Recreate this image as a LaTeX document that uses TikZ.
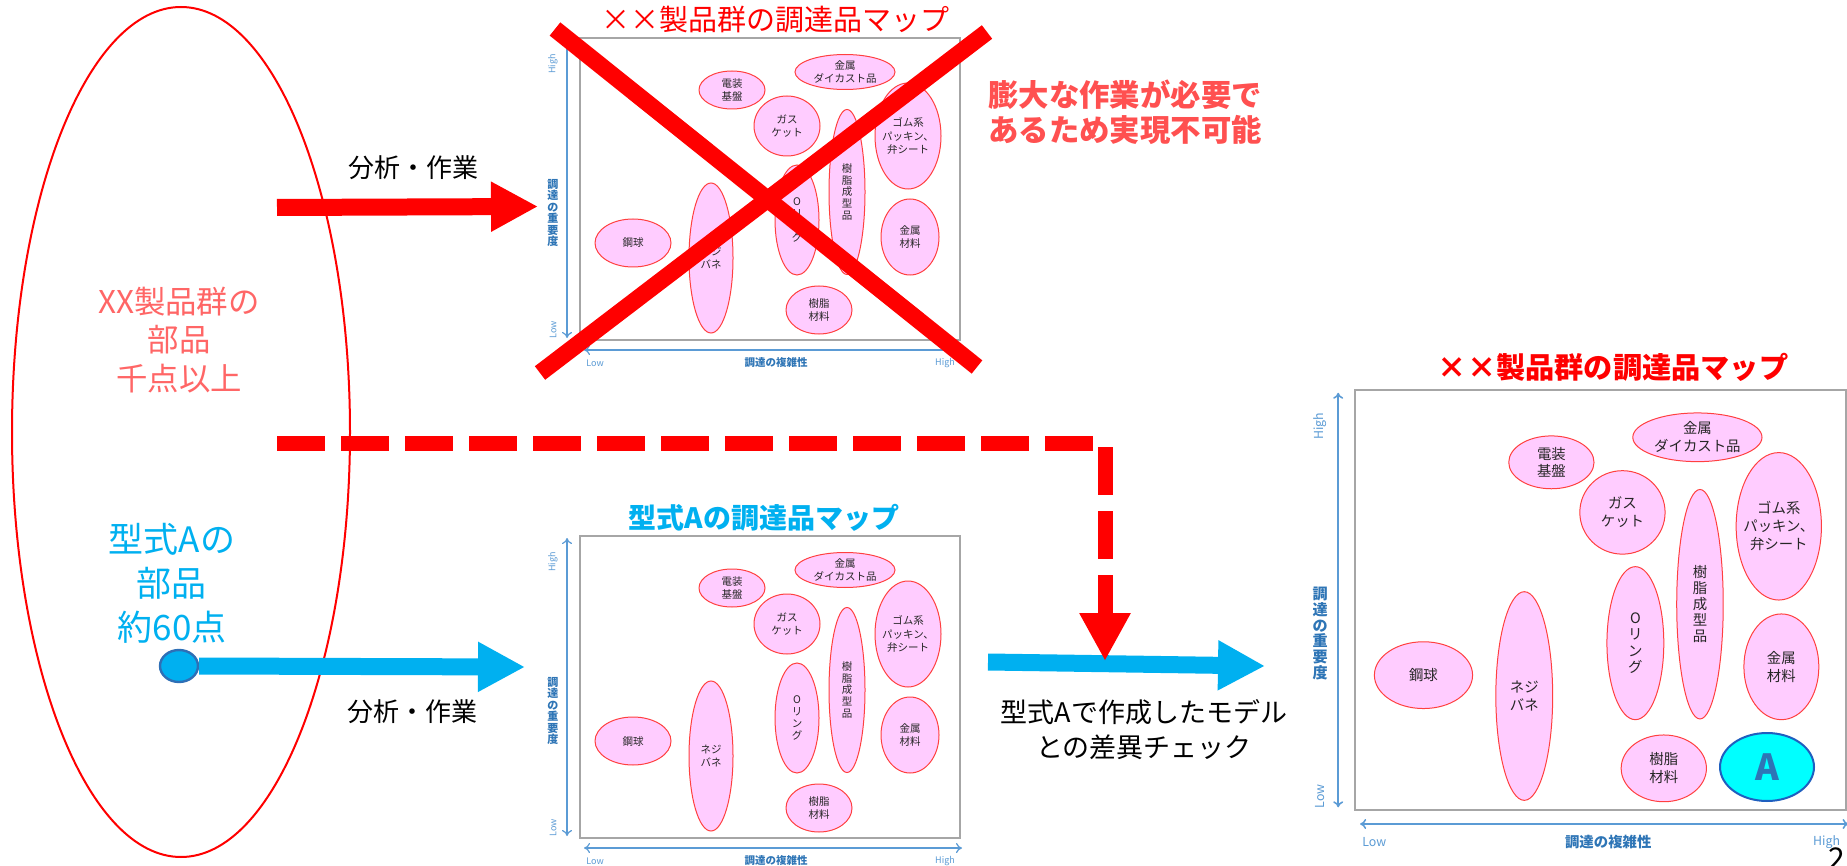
\documentclass[tikz,border=0pt]{standalone}
\usepackage{fontspec}
\setmainfont{Noto Sans CJK JP}
\usetikzlibrary{arrows.meta,shapes.geometric}
\definecolor{partpink}{HTML}{FFCCFF}
\definecolor{partred}{HTML}{FF4040}
\definecolor{axisblue}{HTML}{5B9BD5}
\definecolor{labelblue}{HTML}{2E75B6}
\definecolor{framegray}{HTML}{A6A6A6}
\definecolor{skyblue}{HTML}{00B0F0}
\definecolor{dotblue}{HTML}{2E6FB6}
\definecolor{lightred}{HTML}{FF5050}
\definecolor{softred}{HTML}{FF6666}
\definecolor{acyan}{HTML}{00FFFF}
\definecolor{adark}{HTML}{1F5FBF}
\tikzset{
  part/.style n args={2}{ellipse, draw=partred, fill=partpink, line width=0.5pt, inner sep=0pt,
    minimum width={#1*\msx*1pt}, minimum height={#2*\msy*1pt}},
  ptext/.style={font=\fontsize{\mfs}{\mls}\selectfont, align=center, inner sep=0pt, text=black!85},
  vtext/.style={font=\fontsize{\mfs}{\mvs}\selectfont, align=center, inner sep=0pt, text=black!85},
  mapframe/.style={draw=framegray, fill=white, inner sep=0pt},
  axisarrow/.style={draw=axisblue, {To[length=3pt,width=5pt]}-{To[length=3pt,width=5pt]}},
  axlow/.style={font=\fontsize{\lfs}{\lfs}\selectfont, text=axisblue, inner sep=0pt},
  axtitle/.style={font=\bfseries\fontsize{\afs}{\avs}\selectfont, text=labelblue, inner sep=0pt, align=center},
  bigarrow/.style={line width=8.5pt, -{Triangle[length=23.5pt,width=23.5pt]}},
}
\newcommand\procmap[6]{%
  \pgfmathsetmacro\msx{#4}%
  \pgfmathsetmacro\msy{#5}%
  \pgfmathsetmacro\mfs{#6}%
  \pgfmathsetmacro\mls{1.25*#6}%
  \pgfmathsetmacro\mvs{1.12*#6}%
  \pgfmathsetmacro\afs{1.05*#6}%
  \pgfmathsetmacro\avs{1.1*#6}%
  \pgfmathsetmacro\lfs{0.86*#6}%
  \pgfmathsetmacro\flw{#4}%
  \pgfmathsetmacro\alw{0.6*#4}%
  \node[mapframe, line width=\flw pt, minimum width={190*#4*1pt}, minimum height={151*#5*1pt}] (#1frame) at ({#2+190*#4},{#3+151*#5}) {};
  \coordinate (#1vt) at ({#2-13*#4},{#3+2*#5});
  \coordinate (#1vb) at ({#2-13*#4},{#3+300*#5});
  \coordinate (#1hl) at ({#2+4*#4},{#3+312*#5});
  \coordinate (#1hr) at ({#2+382*#4},{#3+312*#5});
  \draw[axisarrow, line width=\alw pt] (#1vt) -- (#1vb);
  \draw[axisarrow, line width=\alw pt] (#1hl) -- (#1hr);
  \node[axlow, rotate=90] (#1vhigh) at ({#2-27*#4},{#3+26*#5}) {High};
  \node[axlow, rotate=90] (#1vlow) at ({#2-27*#4},{#3+292*#5}) {Low};
  \node[axtitle] (#1vtitle) at ({#2-27*#4},{#3+175*#5}) {調\\達\\の\\重\\要\\度};
  \node[axlow] (#1hlow) at ({#2+15*#4},{#3+325*#5}) {Low};
  \node[axtitle, font=\bfseries\fontsize{\mfs}{\mfs}\selectfont] (#1htitle) at ({#2+196*#4},{#3+325*#5}) {調達の複雑性};
  \node[axlow] (#1hhigh) at ({#2+365*#4},{#3+325*#5}) {High};
  \node[part={50}{17.5}] (#1dc) at ({#2+265*#4},{#3+34*#5}) {};
  \node[ptext] (#1dct) at (#1dc) {金属\\ダイカスト品};
  \node[part={33}{19}] (#1den) at ({#2+152*#4},{#3+52*#5}) {};
  \node[ptext] (#1dent) at (#1den) {電装\\基盤};
  \node[part={33}{30}] (#1gas) at ({#2+207*#4},{#3+88*#5}) {};
  \node[ptext] (#1gast) at (#1gas) {ガス\\ケット};
  \node[part={18}{82.5}] (#1jus) at ({#2+267*#4},{#3+154*#5}) {};
  \node[vtext] (#1just) at (#1jus) {樹\\脂\\成\\型\\品};
  \node[part={33}{53}] (#1gom) at ({#2+328*#4},{#3+98*#5}) {};
  \node[ptext] (#1gomt) at (#1gom) {ゴム系\\パッキン、\\弁シート};
  \node[part={22}{55}] (#1orn) at ({#2+217*#4},{#3+182*#5}) {};
  \node[vtext] (#1ornt) at (#1orn) {O\\リ\\ン\\グ};
  \node[part={29}{38}] (#1kin) at ({#2+330*#4},{#3+199*#5}) {};
  \node[ptext] (#1kint) at (#1kin) {金属\\材料};
  \node[part={38}{24}] (#1kou) at ({#2+53*#4},{#3+205*#5}) {};
  \node[ptext] (#1kout) at (#1kou) {鋼球};
  \node[part={22}{75}] (#1nej) at ({#2+131*#4},{#3+220*#5}) {};
  \node[ptext] (#1nejt) at (#1nej) {ネジ\\バネ};
  \node[part={33}{24}] (#1jmat) at ({#2+239*#4},{#3+272*#5}) {};
  \node[ptext] (#1jmatt) at (#1jmat) {樹脂\\材料};
}
\begin{document}
\begin{tikzpicture}[x=0.5pt,y=-0.5pt]
\useasboundingbox (0,0) rectangle (1847,866);
\fill[white] (0,0) rectangle (1847,866);

% left big ellipse
\node[ellipse, draw=red, line width=1pt, minimum width=169pt, minimum height=425pt, inner sep=0pt] (group) at (181,432) {};
\node[font=\fontsize{15.7}{19.25}\selectfont, text=softred, align=center] (grouptext) at (179,340) {XX製品群の\\部品\\千点以上};
\node[font=\fontsize{17.5}{22}\selectfont, text=skyblue, align=center] (typetext) at (172,583) {型式Aの\\部品\\約60点};

% maps
\procmap{ma}{580}{38}{1}{1}{5.25}
\procmap{mb}{580}{536}{1}{1}{5.25}
\procmap{mc}{1355}{390}{1.292}{1.391}{7.2}

% A ellipse on map 3
\node[ellipse, draw=adark, fill=acyan, line width=1pt, minimum width=47pt, minimum height=34pt, inner sep=0pt] (mcA) at (1767,767) {};
\node[font=\bfseries\fontsize{18}{18}\selectfont, text=labelblue, inner sep=0pt] (mcAt) at (mcA) {A};

% titles
\node[font=\fontsize{14.5}{14.5}\selectfont, text=red, inner sep=0pt] (matitle) at (775,20) {××製品群の調達品マップ};
\node[font=\bfseries\fontsize{14}{14}\selectfont, text=skyblue, inner sep=0pt] (mbtitle) at (764,518) {型式Aの調達品マップ};
\node[font=\bfseries\fontsize{14.6}{14.6}\selectfont, text=red, inner sep=0pt] (mctitle) at (1613,367) {××製品群の調達品マップ};

% big X over map 1
\coordinate (xa1) at (555,29);
\coordinate (xa2) at (977,367);
\coordinate (xb1) at (987,32);
\coordinate (xb2) at (540,373);
\draw[red, line width=8.5pt] (xa1) -- (xa2);
\draw[red, line width=8.5pt] (xb1) -- (xb2);

\node[font=\bfseries\fontsize{15.2}{17.5}\selectfont, text=lightred, align=center] (infeasible) at (1125,112) {膨大な作業が必要で\\あるため実現不可能};

% top red arrow
\coordinate (ra1) at (277,207.5);
\coordinate (ra2) at (538,206.5);
\draw[bigarrow, red] (ra1) -- (ra2);
\node[font=\fontsize{13}{13}\selectfont, inner sep=0pt] (worktop) at (413,168) {分析・作業};

% blue arrow with dot
\node[ellipse, draw=dotblue, fill=skyblue, line width=1.2pt, minimum width=19pt, minimum height=16pt, inner sep=0pt] (dot) at (179,666) {};
\coordinate (ba2) at (525,667);
\draw[bigarrow, skyblue] (dot.east) -- (ba2);
\node[font=\fontsize{13}{13}\selectfont, inner sep=0pt] (workbot) at (412,712) {分析・作業};

% right blue arrow
\coordinate (rb1) at (988,662);
\coordinate (rb2) at (1265,666);
\draw[bigarrow, skyblue] (rb1) -- (rb2);

% dashed red elbow arrow
\coordinate (da1) at (277,443);
\coordinate (da2) at (1105,443);
\coordinate (da3) at (1105,661);
\draw[red, line width=7.5pt, dash pattern=on 24pt off 8pt, -{Triangle[length=24pt,width=24pt]}] (da1) -- (da2) -- (da3);

\node[font=\fontsize{13.5}{17.5}\selectfont, align=center] (diffcheck) at (1144,730) {型式Aで作成したモデル\\との差異チェック};

% page number
\node[font=\fontsize{15}{15}\selectfont, anchor=base, inner sep=0pt] (pagenum) at (1837,869) {2};
\end{tikzpicture}
\end{document}
